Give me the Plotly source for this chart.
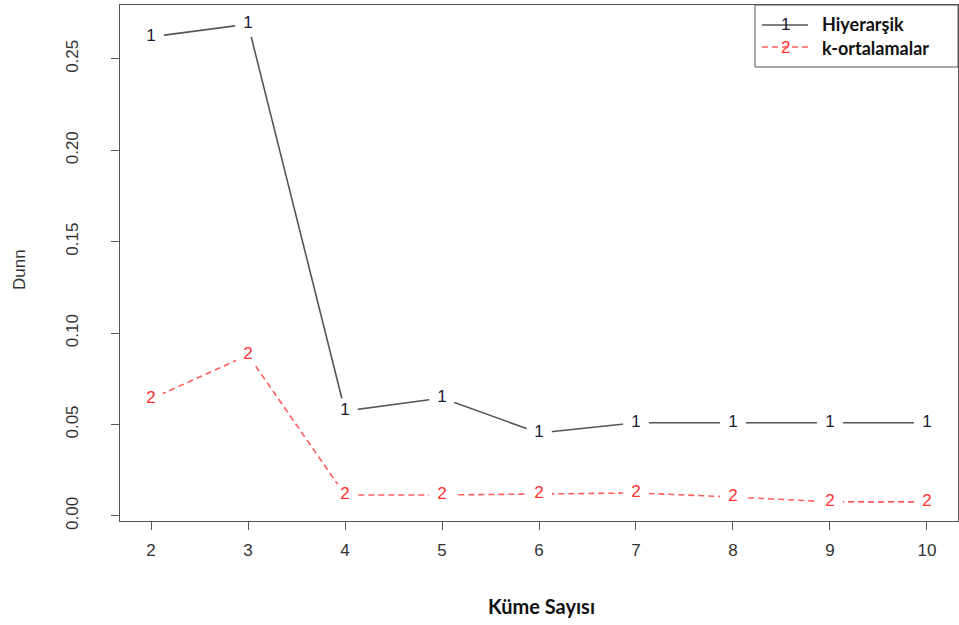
import plotly.graph_objects as go

kume = [2, 3, 4, 5, 6, 7, 8, 9, 10]
hiyerarsik = [0.262, 0.269, 0.0574, 0.0645, 0.0454, 0.0510, 0.0510, 0.0510, 0.0510]
kortalama = [0.064, 0.088, 0.0115, 0.0115, 0.0120, 0.0126, 0.0104, 0.0077, 0.0077]
yticks = [0.00, 0.05, 0.10, 0.15, 0.20, 0.25]
ytick_text = ["0.00", "0.05", "0.10", "0.15", "0.20", "0.25"]
series_names = ["Hiyerarşik", "k-ortalamalar"]

W, H = 959, 625
ML, MR, MT, MB = 120, 1, 5, 104

fig = go.Figure()

def add_series(y, line_color, dash, txt, txt_color):
    fig.add_trace(go.Scatter(
        x=kume, y=y, mode="lines+markers+text",
        line=dict(color=line_color, width=1.6, dash=dash),
        marker=dict(symbol="circle", size=26, color="white", line=dict(width=0)),
        text=[txt] * len(kume), textposition="middle center",
        textfont=dict(family="Liberation Sans, Arial", size=17, color=txt_color),
        showlegend=False, hoverinfo="skip",
    ))

add_series(hiyerarsik, "#555555", "solid", "1", "#1a1a2e")
add_series(kortalama, "#ff5c5c", "6px,4px", "2", "#ff3030")

ymin, ymax = min(kortalama), max(hiyerarsik)
pad = 0.04 * (ymax - ymin)

axis_common = dict(
    showline=True, linecolor="#555555", linewidth=1, mirror=True,
    ticks="outside", ticklen=8, tickwidth=1, tickcolor="#555555",
    showgrid=False, zeroline=False,
    tickfont=dict(family="Liberation Sans, Arial", size=17, color="#333333"),
)

fig.update_xaxes(range=[2 - 0.04 * 8, 10 + 0.04 * 8], tickvals=kume, **axis_common,
                 ticklabelstandoff=6)
fig.update_yaxes(range=[ymin - pad, ymax + pad], tickvals=yticks, ticktext=ytick_text,
                 tickangle=-90, ticklabelstandoff=26, **axis_common)

pw = W - ML - MR
ph = H - MT - MB
def px(x): return (x - ML) / pw
def py(y): return (H - MB - y) / ph

shapes = [
    dict(type="rect", xref="paper", yref="paper", x0=px(755), x1=px(958), y0=py(67), y1=py(5),
         line=dict(color="#555555", width=1), fillcolor="white", layer="above"),
    dict(type="line", xref="paper", yref="paper", x0=px(762), x1=px(808), y0=py(25), y1=py(25),
         line=dict(color="#555555", width=1.6), layer="above"),
    dict(type="line", xref="paper", yref="paper", x0=px(762), x1=px(808), y0=py(47), y1=py(47),
         line=dict(color="#ff5c5c", width=1.6, dash="6px,4px"), layer="above"),
]
annotations = [
    dict(xref="paper", yref="paper", x=px(785), y=py(25), text="1", showarrow=False,
         font=dict(family="Liberation Sans, Arial", size=17, color="#1a1a2e"),
         xanchor="center", yanchor="middle"),
    dict(xref="paper", yref="paper", x=px(785), y=py(47), text="2", showarrow=False,
         font=dict(family="Liberation Sans, Arial", size=17, color="#ff3030"),
         xanchor="center", yanchor="middle"),
    dict(xref="paper", yref="paper", x=px(820), y=py(24), text="<b>" + series_names[0] + "</b>",
         showarrow=False, font=dict(family="Lato", size=18, color="#111111"),
         xanchor="left", yanchor="middle"),
    dict(xref="paper", yref="paper", x=px(820), y=py(48), text="<b>" + series_names[1] + "</b>",
         showarrow=False, font=dict(family="Lato", size=18, color="#111111"),
         xanchor="left", yanchor="middle"),
    dict(xref="paper", yref="paper", x=px(541), y=py(606), text="<b>Küme Sayısı</b>",
         showarrow=False, font=dict(family="Lato", size=20, color="#111111"),
         xanchor="center", yanchor="middle"),
    dict(xref="paper", yref="paper", x=px(19), y=py(270), text="Dunn", textangle=-90,
         showarrow=False, font=dict(family="Liberation Sans, Arial", size=17, color="#333333"),
         xanchor="center", yanchor="middle"),
]

fig.update_layout(
    width=W, height=H,
    margin=dict(l=ML, r=MR, t=MT, b=MB),
    paper_bgcolor="white", plot_bgcolor="white",
    shapes=shapes, annotations=annotations,
    showlegend=False,
)

fig.write_html("out.html")
